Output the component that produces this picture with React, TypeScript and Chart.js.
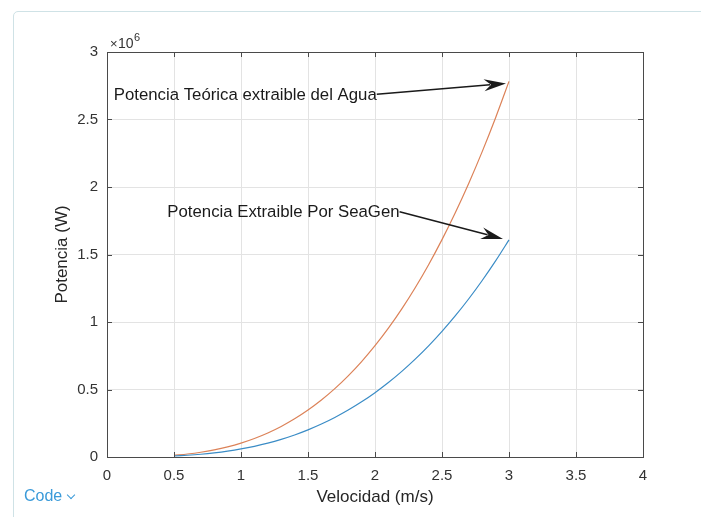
import React, { useEffect, useRef } from "react";
import { Chart, registerables } from "chart.js";

Chart.register(...registerables);

const velocity = [0.5, 0.6, 0.7, 0.8, 0.9, 1.0, 1.1, 1.2, 1.3, 1.4, 1.5, 1.6, 1.7, 1.8, 1.9, 2.0, 2.1, 2.2, 2.3, 2.4, 2.5, 2.6, 2.7, 2.8, 2.9, 3.0];
const theoreticalPower = [12900, 22300, 35300, 52800, 75100, 103000, 137200, 178100, 226400, 282800, 347800, 422100, 506300, 601000, 706800, 824400, 954300, 1097200, 1253700, 1424500, 1610100, 1811100, 2028200, 2262000, 2513100, 2782200];
const seagenPower = [7400, 12900, 20400, 30500, 43400, 59600, 79300, 102900, 130900, 163400, 201000, 244000, 292600, 347400, 408500, 476500, 551600, 634200, 724700, 823300, 930600, 1046800, 1172300, 1307400, 1452600, 1608100];

const xTitle = "Velocidad (m/s)";
const yTitle = "Potencia (W)";
const labelTheoretical = "Potencia Teórica extraible del Agua";
const labelSeagen = "Potencia Extraible Por SeaGen";

const FONT = "'Liberation Sans', Arial, Helvetica, sans-serif";

function drawArrow(ctx: CanvasRenderingContext2D, x1: number, y1: number, x2: number, y2: number) {
  const ang = Math.atan2(y2 - y1, x2 - x1);
  const hl = 22;
  const hw = 6;
  const bx = x2 - hl * Math.cos(ang);
  const by = y2 - hl * Math.sin(ang);
  ctx.save();
  ctx.strokeStyle = "#1a1a1a";
  ctx.fillStyle = "#1a1a1a";
  ctx.lineWidth = 1.5;
  ctx.beginPath();
  ctx.moveTo(x1, y1);
  ctx.lineTo(bx + 6 * Math.cos(ang), by + 6 * Math.sin(ang));
  ctx.stroke();
  ctx.beginPath();
  ctx.moveTo(x2, y2);
  ctx.lineTo(bx - hw * Math.sin(ang), by + hw * Math.cos(ang));
  ctx.lineTo(bx + 7 * Math.cos(ang), by + 7 * Math.sin(ang));
  ctx.lineTo(bx + hw * Math.sin(ang), by - hw * Math.cos(ang));
  ctx.closePath();
  ctx.fill();
  ctx.restore();
}

const decorPlugin = {
  id: "decor",
  afterDraw(chart: any) {
    const ctx: CanvasRenderingContext2D = chart.ctx;
    const { left, right, top, bottom } = chart.chartArea;
    const xs = chart.scales.x;
    const ys = chart.scales.y;
    ctx.save();
    // box
    ctx.strokeStyle = "#4a4a4a";
    ctx.lineWidth = 1;
    ctx.strokeRect(Math.round(left) + 0.5, Math.round(top) + 0.5, Math.round(right - left), Math.round(bottom - top));
    // inward ticks
    const tl = 5;
    ctx.beginPath();
    xs.ticks.forEach((t: any) => {
      const px = Math.round(xs.getPixelForValue(t.value)) + 0.5;
      ctx.moveTo(px, bottom);
      ctx.lineTo(px, bottom - tl);
      ctx.moveTo(px, top);
      ctx.lineTo(px, top + tl);
    });
    ys.ticks.forEach((t: any) => {
      const py = Math.round(ys.getPixelForValue(t.value)) + 0.5;
      ctx.moveTo(left, py);
      ctx.lineTo(left + tl, py);
      ctx.moveTo(right, py);
      ctx.lineTo(right - tl, py);
    });
    ctx.stroke();

    // exponent label
    ctx.fillStyle = "#333333";
    ctx.textBaseline = "alphabetic";
    ctx.textAlign = "left";
    ctx.font = `13px ${FONT}`;
    ctx.fillText("×", left + 3, top - 4);
    ctx.font = `14px ${FONT}`;
    ctx.fillText("10", left + 11, top - 4);
    ctx.font = `11px ${FONT}`;
    ctx.fillText("6", left + 27, top - 11);

    // axis titles
    ctx.fillStyle = "#262626";
    ctx.font = `17px ${FONT}`;
    ctx.textAlign = "center";
    ctx.textBaseline = "middle";
    ctx.fillText(xTitle, (left + right) / 2, 497);
    ctx.save();
    ctx.translate(62, (top + bottom) / 2);
    ctx.rotate(-Math.PI / 2);
    ctx.fillText(yTitle, 0, 0);
    ctx.restore();

    // annotations
    const endX = xs.getPixelForValue(velocity[velocity.length - 1]);
    const endYT = ys.getPixelForValue(theoreticalPower[theoreticalPower.length - 1]);
    const endYS = ys.getPixelForValue(seagenPower[seagenPower.length - 1]);
    ctx.font = `16.8px ${FONT}`;
    ctx.fillStyle = "#1a1a1a";
    ctx.textAlign = "left";
    ctx.textBaseline = "middle";
    const t1x = xs.getPixelForValue(0.05);
    const t1y = ys.getPixelForValue(2.68e6);
    ctx.fillText(labelTheoretical, t1x, t1y);
    const w1 = ctx.measureText(labelTheoretical).width;
    drawArrow(ctx, t1x + w1, t1y - 1, endX - 3, endYT + 2);

    const t2x = xs.getPixelForValue(0.45);
    const t2y = ys.getPixelForValue(1.81e6);
    ctx.fillText(labelSeagen, t2x, t2y);
    const w2 = ctx.measureText(labelSeagen).width;
    drawArrow(ctx, t2x + w2, t2y - 1, endX - 6, endYS - 1);
    ctx.restore();
  },
};

export default function App() {
  const ref = useRef<HTMLCanvasElement | null>(null);
  useEffect(() => {
    document.body.style.margin = "0";
    const canvas = ref.current;
    if (!canvas) return;
    const tickFont = { family: FONT, size: 15 };
    const chart = new Chart(canvas, {
      type: "line",
      data: {
        datasets: [
          {
            label: "SeaGen",
            data: velocity.map((v, i) => ({ x: v, y: seagenPower[i] })),
            borderColor: "#3a8cc6",
            borderWidth: 1.2,
            pointRadius: 0,
            tension: 0.3,
            fill: false,
          },
          {
            label: "Teórica",
            data: velocity.map((v, i) => ({ x: v, y: theoreticalPower[i] })),
            borderColor: "#dc8258",
            borderWidth: 1.2,
            pointRadius: 0,
            tension: 0.3,
            fill: false,
          },
        ],
      },
      options: {
        animation: false,
        responsive: false,
        maintainAspectRatio: false,
        layout: { padding: { top: 52, right: 58, left: 0, bottom: 0 } },
        plugins: { legend: { display: false }, tooltip: { enabled: false } },
        scales: {
          x: {
            type: "linear",
            min: 0,
            max: 4,
            afterFit: (s: any) => {
              s.height = 60;
            },
            ticks: {
              stepSize: 0.5,
              padding: 10,
              color: "#333333",
              font: tickFont,
              maxRotation: 0,
              callback: (v: any) => String(Number(v)),
            },
            grid: { color: "#e3e3e3", lineWidth: 1, drawTicks: false },
            border: { display: false },
          },
          y: {
            type: "linear",
            min: 0,
            max: 3e6,
            afterFit: (s: any) => {
              s.width = 107;
            },
            ticks: {
              stepSize: 5e5,
              padding: 9,
              color: "#333333",
              font: tickFont,
              callback: (v: any) => String(Number(v) / 1e6),
            },
            grid: { color: "#e3e3e3", lineWidth: 1, drawTicks: false },
            border: { display: false },
          },
        },
      },
      plugins: [decorPlugin],
    } as any);
    return () => chart.destroy();
  }, []);

  return (
    <div style={{ position: "fixed", left: 0, top: 0, width: 701, height: 517, background: "#ffffff", overflow: "hidden" }}>
      <div
        style={{
          position: "absolute",
          left: 13,
          top: 11,
          width: 760,
          height: 560,
          border: "1px solid #cfe2e6",
          borderRadius: 5,
          boxSizing: "border-box",
        }}
      />
      <canvas ref={ref} width={701} height={517} style={{ position: "absolute", left: 0, top: 0, width: 701, height: 517 }} />
      <div
        style={{
          position: "absolute",
          left: 24,
          top: 487,
          fontFamily: FONT,
          fontSize: 16,
          color: "#3a9ad9",
          display: "flex",
          alignItems: "center",
        }}
      >
        <span>Code</span>
        <span
          style={{
            display: "inline-block",
            width: 5,
            height: 5,
            borderRight: "1.2px solid #3a9ad9",
            borderBottom: "1.2px solid #3a9ad9",
            transform: "rotate(45deg)",
            marginLeft: 6,
            marginTop: -3,
          }}
        />
      </div>
    </div>
  );
}
